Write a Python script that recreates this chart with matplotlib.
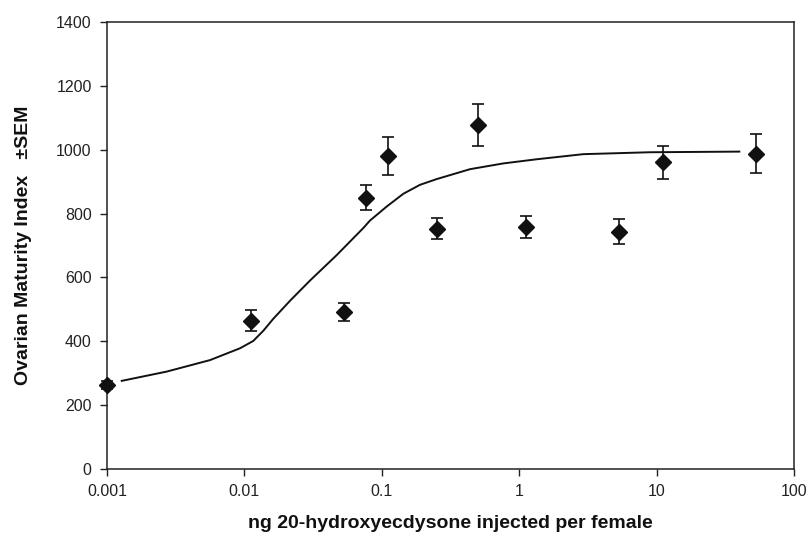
import matplotlib
matplotlib.use("Agg")
import matplotlib.pyplot as plt

plt.rcParams['font.family'] = ['Liberation Sans', 'DejaVu Sans']

# dose (ng) and ovarian maturity index, with SEM
dose = [0.001, 0.0112, 0.0533, 0.0764, 0.1115, 0.254, 0.50, 1.12, 5.32, 11.07, 52.9]
omi = [263, 464, 493, 850, 980, 753, 1078, 757, 743, 961, 988]
sem = [12, 33, 28, 38, 60, 34, 65, 34, 39, 52, 62]

# fitted curve
fit_x = [0.00128, 0.00272, 0.00562, 0.00929, 0.0116, 0.01374, 0.0162, 0.0215,
         0.0300, 0.0470, 0.0735, 0.0820, 0.1086, 0.1435, 0.1897, 0.251,
         0.439, 0.766, 1.34, 2.93, 8.95, 40.0]
fit_y = [276, 305, 341, 378, 401, 433, 470, 527,
         590, 670, 755, 778, 822, 862, 890, 908,
         939, 957, 970, 986, 992, 994]

fig = plt.figure(figsize=(8.08, 5.44), dpi=100)
ax = fig.add_axes([0.1324, 0.1379, 0.8503, 0.8217])

ax.plot(fit_x, fit_y, color='#111111', lw=1.4, zorder=2)
ax.errorbar(dose, omi, yerr=sem, fmt='D', color='#111111', ms=8.5,
            ecolor='#111111', elinewidth=1.2, capsize=4, capthick=1.2,
            zorder=3, clip_on=False)

ax.set_xscale('log')
ax.set_xlim(0.001, 100)
ax.set_ylim(0, 1400)
ax.set_yticks(range(0, 1401, 200))
ax.set_xticks([0.001, 0.01, 0.1, 1, 10, 100])
ax.set_xticklabels(['0.001', '0.01', '0.1', '1', '10', '100'])
ax.minorticks_off()

ax.tick_params(direction='out', length=5, width=1, labelsize=11.5,
               colors='#222222', pad=6)
for s in ax.spines.values():
    s.set_linewidth(1.1)
    s.set_color('#222222')

ax.set_xlabel('ng 20-hydroxyecdysone injected per female', fontsize=14,
              fontweight='bold', labelpad=11, color='#111111')
ax.set_ylabel('Ovarian Maturity Index   \u00b1SEM', fontsize=14,
              fontweight='bold', labelpad=17, color='#111111')

fig.savefig('out.png', dpi=100)
